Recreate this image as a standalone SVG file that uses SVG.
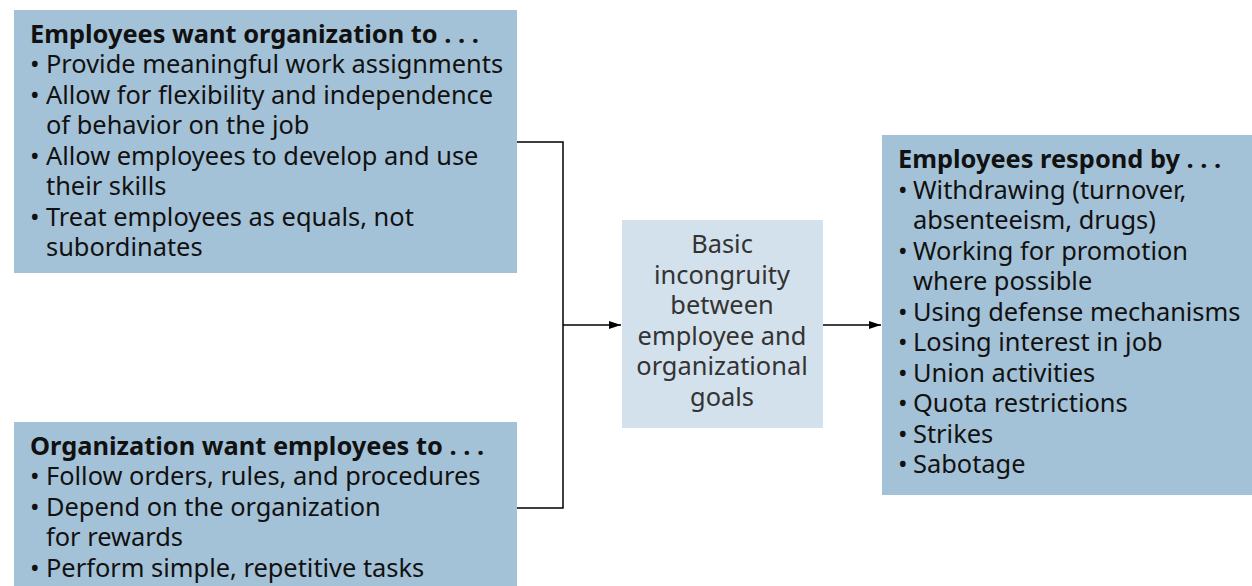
<svg xmlns="http://www.w3.org/2000/svg" width="1252" height="586" viewBox="0 0 1252 586">
<style>
.box{fill:#a4c2d7}
.mid{fill:#d3e1ec}
text{font-family:"Noto Sans","Open Sans",sans-serif;font-size:25.4px;fill:#111}
.t{font-weight:bold}
.c{text-anchor:middle;fill:#333}
.ln{fill:none;stroke:#000;stroke-width:1.5}
</style>
<defs>
<marker id="ar" markerWidth="12" markerHeight="8" refX="12" refY="4" orient="auto" markerUnits="userSpaceOnUse">
<path d="M0,0 L12,4 L0,8 Z" fill="#000"/>
</marker>
</defs>
<g id="connectors">
<path class="ln" d="M517,142 H563 V508 H517"/>
<path class="ln" d="M563,325 H621" marker-end="url(#ar)"/>
<path class="ln" d="M823,325 H881" marker-end="url(#ar)"/>
</g>
<g id="employees-want">
<rect class="box" x="14" y="10" width="503" height="263"/>
<text class="t" x="30" y="43">Employees want organization to . . .</text>
<text x="30" y="73">•</text><text x="46" y="73">Provide meaningful work assignments</text>
<text x="30" y="104">•</text><text x="46" y="104">Allow for flexibility and independence</text>
<text x="46" y="134">of behavior on the job</text>
<text x="30" y="165">•</text><text x="46" y="165">Allow employees to develop and use</text>
<text x="46" y="195">their skills</text>
<text x="30" y="226">•</text><text x="46" y="226">Treat employees as equals, not</text>
<text x="46" y="256">subordinates</text>
</g>
<g id="organization-want">
<rect class="box" x="14" y="422" width="503" height="170"/>
<text class="t" x="30" y="455">Organization want employees to . . .</text>
<text x="30" y="485">•</text><text x="46" y="485">Follow orders, rules, and procedures</text>
<text x="30" y="516">•</text><text x="46" y="516">Depend on the organization</text>
<text x="46" y="546">for rewards</text>
<text x="30" y="577">•</text><text x="46" y="577">Perform simple, repetitive tasks</text>
</g>
<g id="incongruity">
<rect class="mid" x="622" y="220" width="201" height="208"/>
<text class="c" x="722" y="253">Basic</text>
<text class="c" x="722" y="284">incongruity</text>
<text class="c" x="722" y="314">between</text>
<text class="c" x="722" y="345">employee and</text>
<text class="c" x="722" y="375">organizational</text>
<text class="c" x="722" y="406">goals</text>
</g>
<g id="employees-respond">
<rect class="box" x="882" y="135" width="370" height="360"/>
<text class="t" x="898" y="168">Employees respond by . . .</text>
<text x="898" y="199">•</text><text x="913" y="199">Withdrawing (turnover,</text>
<text x="913" y="229">absenteeism, drugs)</text>
<text x="898" y="260">•</text><text x="913" y="260">Working for promotion</text>
<text x="913" y="290">where possible</text>
<text x="898" y="321">•</text><text x="913" y="321">Using defense mechanisms</text>
<text x="898" y="351">•</text><text x="913" y="351">Losing interest in job</text>
<text x="898" y="382">•</text><text x="913" y="382">Union activities</text>
<text x="898" y="412">•</text><text x="913" y="412">Quota restrictions</text>
<text x="898" y="443">•</text><text x="913" y="443">Strikes</text>
<text x="898" y="473">•</text><text x="913" y="473">Sabotage</text>
</g>
</svg>
